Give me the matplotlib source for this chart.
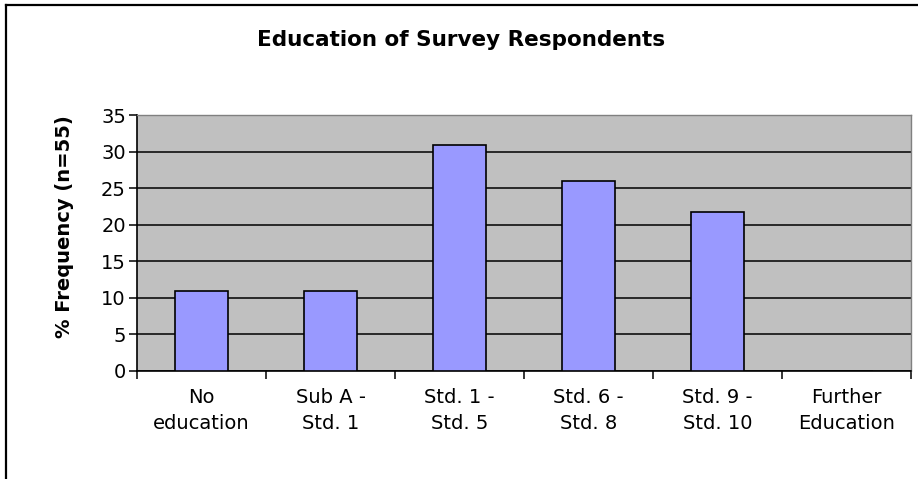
import numpy as np
import matplotlib
matplotlib.use("Agg")
import matplotlib.pyplot as plt
from matplotlib.lines import Line2D

# ---- datos ----
categorias = ["No\neducation", "Sub A -\nStd. 1", "Std. 1 -\nStd. 5",
              "Std. 6 -\nStd. 8", "Std. 9 -\nStd. 10", "Further\nEducation"]
frecuencia = [10.9, 10.9, 30.9, 26.0, 21.8, 0]
y_ticks = [0, 5, 10, 15, 20, 25, 30, 35]

TITULO = "Education of Survey Respondents"
Y_LABEL = "% Frequency (n=55)"

plt.rcParams['font.family'] = ['DejaVu Sans']

W, H = 918, 479
fig = plt.figure(figsize=(W / 100, H / 100), dpi=100)
fig.patch.set_facecolor("white")

# area del grafico en pixeles
left, right, top, bottom = 137, 911, 115, 371
ax = fig.add_axes([left / W, (H - bottom) / H, (right - left) / W, (bottom - top) / H])
ax.set_facecolor("#C0C0C0")

x = np.arange(len(categorias))
ax.bar(x, frecuencia, width=0.41, color="#9999FF", edgecolor="black", linewidth=1.2, zorder=3)

ax.set_xlim(-0.5, len(categorias) - 0.5)
ax.set_ylim(0, 35)
ax.set_yticks(y_ticks)
ax.yaxis.grid(True, color="black", linewidth=1.1, zorder=1)
ax.set_axisbelow(True)

ax.set_xticks(x)
ax.set_xticklabels(categorias, fontsize=14, linespacing=1.5)
ax.set_xticks(np.arange(-0.5, len(categorias)), minor=True)
ax.tick_params(axis="x", which="major", length=0, pad=12)
ax.tick_params(axis="x", which="minor", length=6, width=1.1, direction="out", color="black")
ax.tick_params(axis="y", length=6, width=1.1, labelsize=14, pad=2)

for s in ["top", "right"]:
    ax.spines[s].set_color("#808080")
    ax.spines[s].set_linewidth(1.0)
for s in ["left", "bottom"]:
    ax.spines[s].set_color("black")
    ax.spines[s].set_linewidth(1.2)

ax.set_ylabel(Y_LABEL, fontsize=14, fontweight="bold")
ax.yaxis.set_label_coords((74 - left) / (right - left), (bottom - 227) / (bottom - top))
fig.text(461 / W, 1 - 46 / H, TITULO, ha="center", va="baseline", fontsize=15.5, fontweight="bold")

# marco exterior (recortado a la derecha y abajo)
fig.add_artist(Line2D([6 / W, 6 / W], [0, 1 - 5 / H], color="black", linewidth=1.6, transform=fig.transFigure))
fig.add_artist(Line2D([6 / W, 1], [1 - 5 / H, 1 - 5 / H], color="black", linewidth=1.6, transform=fig.transFigure))

plt.savefig("out.png", dpi=100)
